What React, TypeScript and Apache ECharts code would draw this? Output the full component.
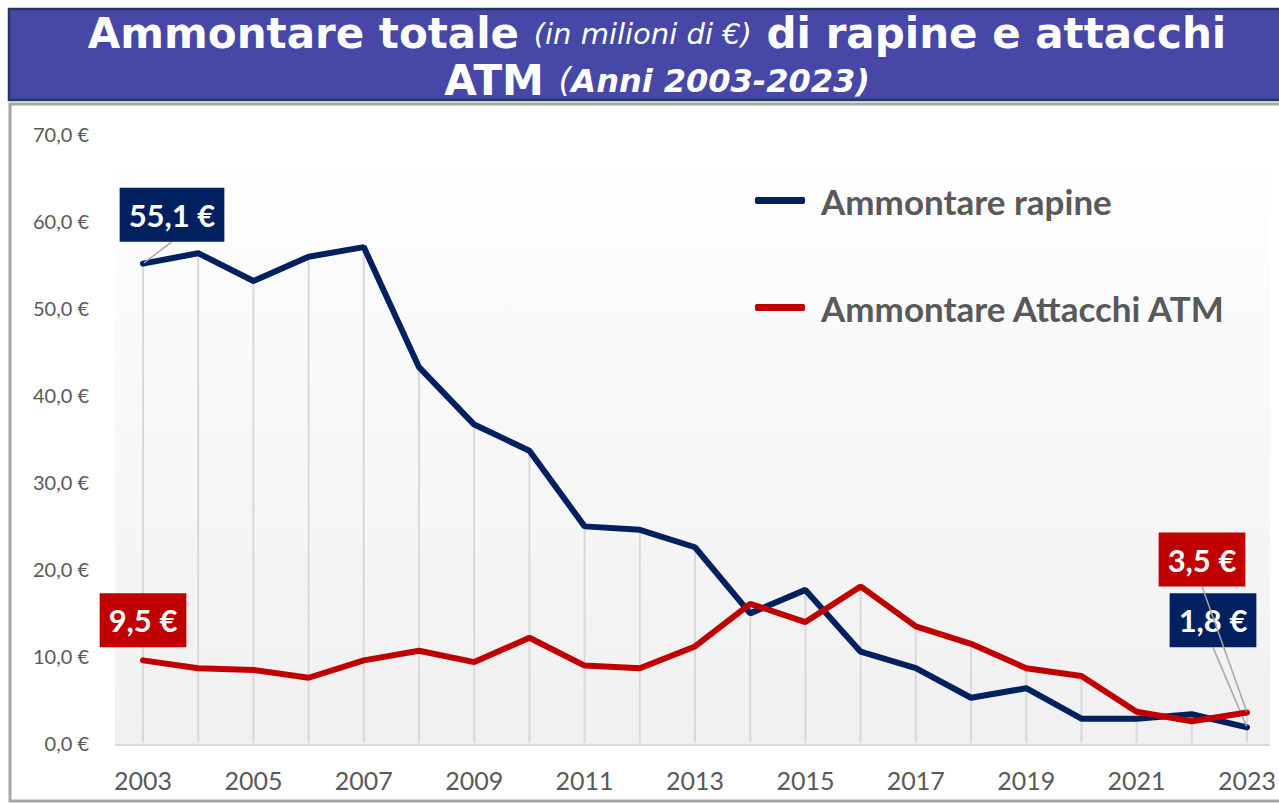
import React, { useEffect, useRef } from "react";
import * as echarts from "echarts";

const years = ["2003","2004","2005","2006","2007","2008","2009","2010","2011","2012","2013","2014","2015","2016","2017","2018","2019","2020","2021","2022","2023"];
const rapine = [55.1, 56.3, 53.1, 55.9, 57.0, 43.2, 36.6, 33.6, 24.9, 24.5, 22.5, 14.9, 17.6, 10.5, 8.6, 5.2, 6.3, 2.8, 2.8, 3.3, 1.8];
const atm = [9.5, 8.6, 8.4, 7.5, 9.5, 10.6, 9.3, 12.1, 8.9, 8.6, 11.1, 16.0, 13.9, 18.0, 13.4, 11.4, 8.6, 7.7, 3.6, 2.5, 3.5];
const seriesNames = ["Ammontare rapine", "Ammontare Attacchi ATM"];
const yTicks = { min: 0, max: 70, interval: 10 };

const NAVY = "#002060";
const RED = "#C00000";
const fmt = (v: number) => v.toFixed(1).replace(".", ",") + " €";

const labelBase = (bg: string) => ({
  show: true,
  position: "top",
  distance: 5,
  formatter: (p: any) => fmt(p.value),
  color: "#ffffff",
  fontFamily: "Lato",
  fontWeight: "bold",
  fontSize: 31,
  lineHeight: 38,
  backgroundColor: bg,
  padding: [8, 9, 8, 9],
});

export default function App() {
  const ref = useRef<HTMLDivElement>(null);
  useEffect(() => {
    if (!ref.current) return;
    const chart = echarts.init(ref.current, null, { renderer: "svg" });
    const last = years.length - 1;
    const dropLines = years.map((_, i) => Math.max(rapine[i], atm[i]));

    const rapineData = rapine.map((v, i) => {
      if (i === 0 || i === last) {
        return { value: v, label: labelBase(NAVY), labelLine: { show: true } };
      }
      return v;
    });
    const atmData = atm.map((v, i) => {
      if (i === 0) {
        return { value: v, label: { ...labelBase(RED), distance: 12 }, labelLine: { show: false } };
      }
      if (i === last) {
        return { value: v, label: labelBase(RED), labelLine: { show: true } };
      }
      return v;
    });

    const white = "#ffffff";
    chart.setOption({
      animation: false,
      backgroundColor: "#ffffff",
      graphic: [
        {
          type: "rect",
          z: -10,
          shape: { x: 9, y: 9, width: 1280, height: 91 },
          style: { fill: "#4747A7", stroke: "#1F3864", lineWidth: 2.5 },
        },
        {
          type: "rect",
          z: -10,
          shape: { x: 10, y: 104, width: 1280, height: 697 },
          style: { fill: "#ffffff", stroke: "#A6A6A6", lineWidth: 3 },
        },
        {
          type: "rect",
          z: -9,
          shape: { x: 115, y: 168, width: 1155, height: 577 },
          style: {
            fill: new echarts.graphic.LinearGradient(0, 0, 0, 1, [
              { offset: 0, color: "#FEFEFE" },
              { offset: 1, color: "#F0F0F0" },
            ]),
          },
        },
        {
          type: "line",
          z: -8,
          shape: { x1: 115, y1: 745, x2: 1270, y2: 745 },
          style: { stroke: "#D9D9D9", lineWidth: 2 },
        },
      ],
      title: {
        left: 652,
        textAlign: "center",
        top: 5,
        text:
          "{b|Ammontare totale }{i|(in milioni di €)}{b| di rapine e attacchi}\n{b|ATM }{i2|(}{bi|Anni 2003-2023)}",
        textStyle: {
          rich: {
            b: { fontFamily: "DejaVu Sans", fontWeight: "bold", fontSize: 42, color: white, lineHeight: 47 },
            i: { fontFamily: "DejaVu Sans", fontStyle: "italic", fontWeight: "normal", fontSize: 29, color: white, lineHeight: 47 },
            i2: { fontFamily: "DejaVu Sans", fontStyle: "italic", fontWeight: "normal", fontSize: 33, color: white, lineHeight: 47 },
            bi: { fontFamily: "DejaVu Sans", fontStyle: "italic", fontWeight: "bold", fontSize: 32, color: white, lineHeight: 47 },
          },
        },
      },
      legend: {
        orient: "vertical",
        left: 750,
        top: 178,
        itemGap: 72,
        itemWidth: 50,
        itemHeight: 7,
        icon: "roundRect",
        data: seriesNames,
        textStyle: { fontFamily: "Lato", fontWeight: "bold", fontSize: 35, color: "#595959", padding: [0, 0, 0, 11] },
      },
      grid: { left: 143, right: 27, top: 134, bottom: 60 },
      xAxis: {
        type: "category",
        data: years,
        boundaryGap: false,
        axisLine: { show: false },
        axisTick: { show: false },
        splitLine: { show: false },
        axisLabel: { interval: 1, fontFamily: "Lato", fontSize: 25, color: "#595959", margin: 24 },
      },
      yAxis: {
        type: "value",
        min: yTicks.min,
        max: yTicks.max,
        interval: yTicks.interval,
        axisLine: { show: false },
        axisTick: { show: false },
        splitLine: { show: false },
        axisLabel: { formatter: fmt, fontFamily: "Lato", fontSize: 20, color: "#595959", margin: 54 },
      },
      series: [
        {
          name: "drop",
          type: "bar",
          data: dropLines,
          barWidth: 2,
          silent: true,
          z: 1,
          itemStyle: { color: "#D9D9D9" },
          legendHoverLink: false,
          tooltip: { show: false },
        },
        {
          name: seriesNames[0],
          type: "line",
          data: rapineData,
          symbol: "circle",
          symbolSize: 2,
          z: 3,
          itemStyle: { color: NAVY },
          lineStyle: { color: NAVY, width: 6, cap: "round" },
          label: { show: false },
          labelLine: { show: false, lineStyle: { color: "#A6A6A6", width: 1.5 } },
          labelLayout: (p: any) =>
            p.dataIndex === 0 ? { dx: 29, dy: -16 } : p.dataIndex === last ? { dx: -34, dy: -74 } : {},
        },
        {
          name: seriesNames[1],
          type: "line",
          data: atmData,
          symbol: "circle",
          symbolSize: 2,
          z: 4,
          itemStyle: { color: RED },
          lineStyle: { color: RED, width: 6, cap: "round" },
          label: { show: false },
          labelLine: { show: false, lineStyle: { color: "#A6A6A6", width: 1.5 } },
          labelLayout: (p: any) => (p.dataIndex === last ? { dx: -45, dy: -120 } : {}),
        },
      ],
    });
    return () => chart.dispose();
  }, []);
  return <div ref={ref} style={{ position: "fixed", left: 0, top: 0, width: 1279, height: 803 }} />;
}
